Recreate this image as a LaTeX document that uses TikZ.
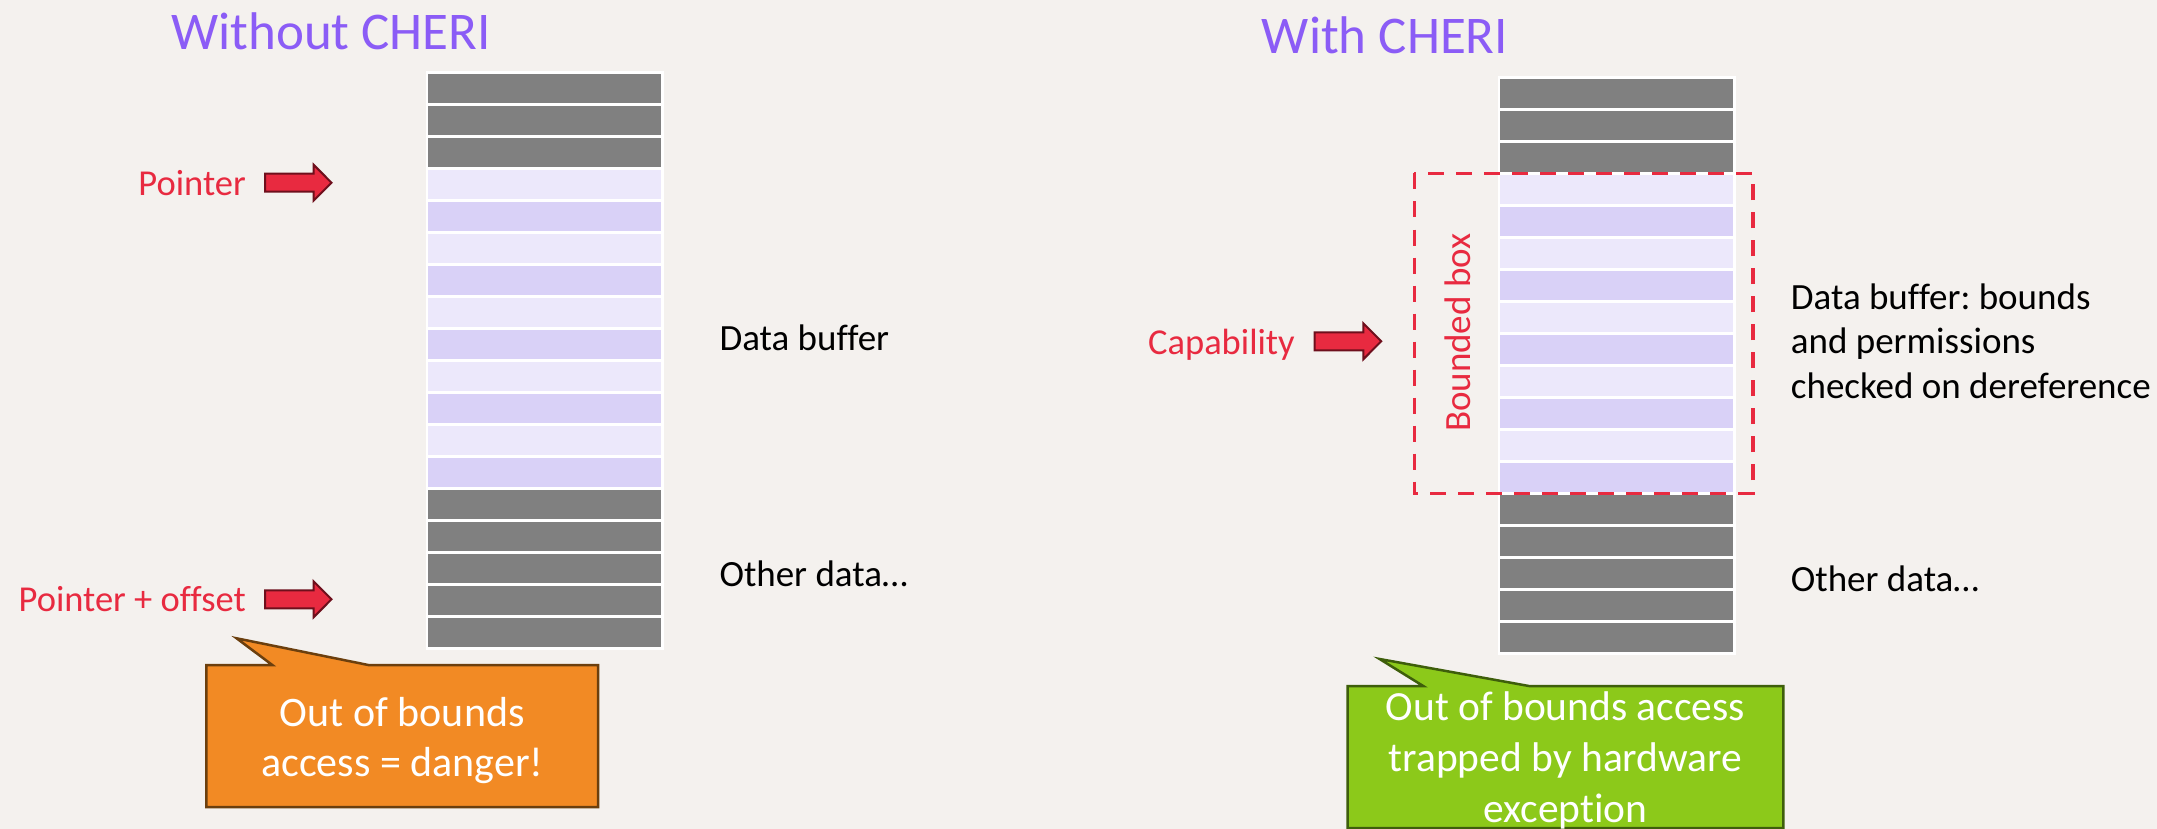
\documentclass[tikz,border=0pt]{standalone}
\usepackage{fontspec}
\setmainfont{Carlito}[Ligatures={NoCommon}]
\frenchspacing
\definecolor{bg}{HTML}{F4F1EE}
\definecolor{titlepurple}{HTML}{8B5CF6}
\definecolor{ptrred}{HTML}{E82A40}
\definecolor{arrowedge}{HTML}{6E0F1C}
\definecolor{cellgray}{HTML}{808080}
\definecolor{celllight}{HTML}{ECE8FB}
\definecolor{celldark}{HTML}{D9D1F7}
\definecolor{orangefill}{HTML}{F28A24}
\definecolor{orangeedge}{HTML}{6B3F0E}
\definecolor{greenfill}{HTML}{8CC91A}
\definecolor{greenedge}{HTML}{3E5E0B}
\begin{document}
\begin{tikzpicture}[x=1pt,y=-1pt,
  title/.style={font=\fontsize{53}{60}\selectfont, text=titlepurple, inner sep=0},
  redlabel/.style={font=\fontsize{36.5}{44}\selectfont, text=ptrred, inner sep=0},
  blacklabel/.style={font=\fontsize{37}{44.5}\selectfont, text=black, inner sep=0},
  arrowfill/.style={fill=ptrred, draw=arrowedge, line width=2, line join=miter},
  blockarrow/.pic={\draw[arrowfill] (0,-9) -- (48.6,-9) -- (48.6,-18) -- (66.5,0) -- (48.6,18) -- (48.6,9) -- (0,9) -- cycle;},
  calloutorange/.style={fill=orangefill, draw=orangeedge, line width=2.5, line join=miter},
  calloutgreen/.style={fill=greenfill, draw=greenedge, line width=2.5, line join=miter},
  bounddash/.style={draw=ptrred, line width=3.3, dash pattern=on 16 off 12},
  callouttext/.style={text=white, inner sep=0}
]
\useasboundingbox (0,0) rectangle (2157,829);
\fill[bg] (0,0) rectangle (2157,829);

% titles
\node[title, anchor=base west] (titleL) at (171,49.3) {Without CHERI};
\node[title, anchor=base west] (titleR) at (1261.7,54) {With CHERI};

% left stack
\fill[white] (425.5,71) rectangle (663.5,650);
\foreach \i in {0,...,17}{
  \pgfmathsetmacro\yt{74+32*\i}
  \ifnum\i<3 \def\cc{cellgray}\else\ifnum\i>12 \def\cc{cellgray}\else\ifodd\i \def\cc{celllight}\else\def\cc{celldark}\fi\fi\fi
  \fill[\cc] (428,\yt) rectangle (661,\yt+29);
}

% right stack
\fill[white] (1497.5,76.5) rectangle (1735.5,655);
\foreach \i in {0,...,17}{
  \pgfmathsetmacro\yt{79.3+32*\i}
  \ifnum\i<3 \def\cc{cellgray}\else\ifnum\i>12 \def\cc{cellgray}\else\ifodd\i \def\cc{celllight}\else\def\cc{celldark}\fi\fi\fi
  \fill[\cc] (1500,\yt) rectangle (1733,\yt+29);
}

% bounded box
\draw[bounddash] (1414.3,173.5) rectangle (1753,493.5);
\node[redlabel, font=\fontsize{37}{44}\selectfont, rotate=90, anchor=base] (boundlabel) at (1470,332.7) {Bounded box};

% left labels and arrows
\node[redlabel, anchor=base east] (ptrlabel) at (246,195.7) {Pointer};
\pic (ptrarrow) at (265,182.7) {blockarrow};
\node[redlabel, anchor=base east] (offlabel) at (246,611) {Pointer + offset};
\pic (offarrow) at (265,599.3) {blockarrow};

\node[blacklabel, anchor=base west] (bufL) at (719.3,350) {Data buffer};
\node[blacklabel, anchor=base west] (otherL) at (719.3,586.7) {Other data…};

% right labels and arrow
\node[redlabel, anchor=base east] (caplabel) at (1295,354.3) {Capability};
\pic (caparrow) at (1314.7,341.3) {blockarrow};

\node[blacklabel, anchor=base west] (bufR) at (1790.7,309.3)
  {\begin{tabular}[t]{@{}l@{}}Data buffer: bounds\\and permissions\\checked on dereference\end{tabular}};
\node[blacklabel, anchor=base west] (otherR) at (1790.7,591.7) {Other data…};

% callouts
\draw[calloutorange] (206.3,665) -- (272.3,665) -- (236.6,638.3) -- (368.3,665) -- (598.2,665) -- (598.2,807) -- (206.3,807) -- cycle;
\node[callouttext, font=\fontsize{42}{50}\selectfont, anchor=base] (orangetxt) at (402.3,726.7)
  {\begin{tabular}[t]{@{}c@{}}Out of bounds\\access = danger!\end{tabular}};

\draw[calloutgreen] (1347.5,686) -- (1423.2,686) -- (1379.6,659) -- (1528.9,686) -- (1783.4,686) -- (1783.4,828) -- (1347.5,828) -- cycle;
\node[callouttext, font=\fontsize{41.5}{51}\selectfont, anchor=base] (greentxt) at (1565.5,720)
  {\begin{tabular}[t]{@{}c@{}}Out of bounds access\\trapped by hardware\\exception\end{tabular}};
\end{tikzpicture}
\end{document}
